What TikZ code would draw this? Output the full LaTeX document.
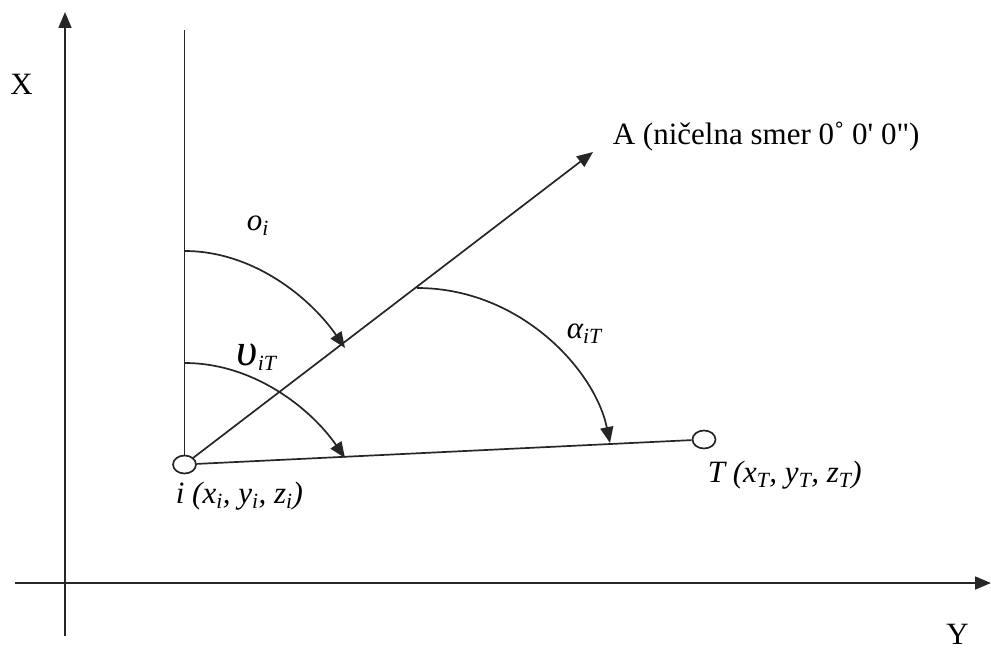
\documentclass[tikz,border=0pt]{standalone}
\usepackage{fontspec}
\setmainfont{Liberation Serif}[ItalicFont={Liberation Serif Italic}]
\newfontfamily\rawserif{Liberation Serif}[Ligatures=TeXOff]
\usetikzlibrary{arrows.meta,shapes.geometric}

\tikzset{
  arrowed/.style={-{Triangle[length=16pt,width=13pt]}},
  station/.style={ellipse, draw, fill=white, inner sep=0pt, minimum width=23pt, minimum height=18pt},
  lbl/.style={inner sep=0pt, font=\fontsize{31}{36}\selectfont}
}

\begin{document}
\begin{tikzpicture}[x=1pt, y=-1pt, line width=1.7pt, draw={black!85}]
  \useasboundingbox (0,0) rectangle (991,650);

  %axes
  \coordinate (Xbot) at (65, 636);
  \coordinate (Xtop) at (65, 12);
  \coordinate (Yleft) at (15, 583);
  \coordinate (Yright) at (991, 583);
  \draw[arrowed] (Xbot) -- (Xtop);
  \draw[arrowed] (Yleft) -- (Yright);
  \node[lbl, anchor=base] (lX) at (21.5, 95) {X};
  \node[lbl, anchor=base] (lY) at (957.5, 644) {Y};

  %stations
  \node[station] (i) at (184.5, 464.5) {};
  \node[station] (T) at (704, 439.5) {};
  \coordinate (itop) at (184.5, 30);
  \coordinate (Atip) at (593, 152);
  \draw (i) -- (itop);
  \draw[arrowed] (i) -- (Atip);
  \draw (i) -- (T);
  \node[lbl, anchor=base west] (lA) at (612, 145) {\rawserif A (ničelna smer 0˚ 0' 0")};
  \node[lbl, anchor=base west] (li) at (175, 503) {\textit{i (x\textsubscript{i}, y\textsubscript{i}, z\textsubscript{i})}};
  \node[lbl, anchor=base west] (lT) at (707, 482) {\textit{T (x\textsubscript{T}, y\textsubscript{T}, z\textsubscript{T})}};

  %angles
  \coordinate (oS) at (184.5, 251);
  \coordinate (oE) at (345, 348);
  \coordinate (vS) at (184.5, 363);
  \coordinate (vE) at (345, 458);
  \coordinate (aS) at (417, 288);
  \coordinate (aE) at (610, 443);
  \draw[arrowed] (oS) .. controls (255, 251) and (312, 300) .. (oE);
  \draw[arrowed] (vS) .. controls (255, 363) and (312, 410) .. (vE);
  \draw[arrowed] (aS) .. controls (520, 288) and (595, 370) .. (aE);
  \node[lbl, anchor=base west] (lo) at (246, 230) {\textit{o\textsubscript{i}}};
  \node[lbl, anchor=base west] (lv) at (236, 365) {\textit{{\fontsize{46}{50}\selectfont υ}\textsubscript{iT}}};
  \node[lbl, anchor=base west] (la) at (566, 338) {\textit{α\textsubscript{iT}}};

\end{tikzpicture}
\end{document}
